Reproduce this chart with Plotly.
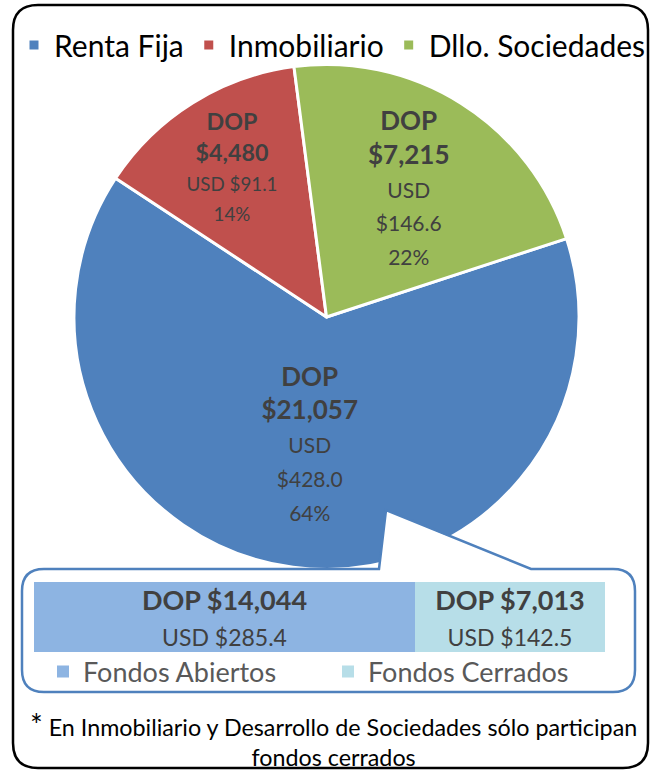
import plotly.graph_objects as go

W, H = 659, 772

# ---- data ----
categories = ["Renta Fija", "Inmobiliario", "Dllo. Sociedades"]
dop_values = [21057, 4480, 7215]
usd_values = [428.0, 91.1, 146.6]
usd_sep = ["<br>", " ", "<br>"]
pie_colors = ["#4F81BD", "#C0504D", "#9BBB59"]

fund_types = ["Fondos Abiertos", "Fondos Cerrados"]
fund_dop = [14044, 7013]
fund_usd = [285.4, 142.5]
fund_colors = ["#8DB4E2", "#B7DEE8"]

footnote = "En Inmobiliario y Desarrollo de Sociedades sólo participan<br>fondos cerrados"

FONT = "Lato"
LABEL = "#404040"


def fx(x):
    return x / W


def fy(y):
    return 1 - y / H


def path(points, close=True):
    parts = []
    for i, p in enumerate(points):
        if p[0] == "Q":
            _, (cx, cy), (ex, ey) = p
            parts.append(f"Q{fx(cx):.5f},{fy(cy):.5f} {fx(ex):.5f},{fy(ey):.5f}")
        else:
            cmd = "M" if i == 0 else "L"
            parts.append(f"{cmd}{fx(p[0]):.5f},{fy(p[1]):.5f}")
    return " ".join(parts) + (" Z" if close else "")


fig = go.Figure()

fig.add_trace(go.Pie(
    labels=categories,
    values=dop_values,
    customdata=[[s, u] for s, u in zip(usd_sep, usd_values)],
    sort=False,
    direction="clockwise",
    rotation=71.9,
    marker=dict(colors=pie_colors, line=dict(color="white", width=3)),
    texttemplate="<b>DOP<br>$%{value:,.0f}</b><br>"
                 "<span style='font-size:21px'>USD%{customdata[0]}$%{customdata[1]:.1f}<br>%{percent:.0%}</span>",
    textposition="inside",
    insidetextorientation="horizontal",
    textfont=dict(family=FONT, size=26, color=LABEL),
    domain=dict(x=[74 / W, 579 / W], y=[fy(569.5), fy(64.5)]),
    hoverinfo="label+value+percent",
    legend="legend",
))

for name, dop, usd, col in zip(fund_types, fund_dop, fund_usd, fund_colors):
    fig.add_trace(go.Bar(
        y=["Fondos"],
        x=[dop],
        customdata=[usd],
        name=name,
        orientation="h",
        marker=dict(color=col, line=dict(width=0)),
        texttemplate="<b>DOP $%{x:,.0f}</b><br><span style='font-size:23px'>USD $%{customdata:.1f}</span>",
        textposition="inside",
        insidetextanchor="middle",
        textangle=0,
        constraintext="none",
        textfont=dict(family=FONT, size=27, color=LABEL),
        xaxis="x", yaxis="y",
        legend="legend2",
    ))

shapes = [
    # outer rounded frame
    dict(type="path", xref="paper", yref="paper", layer="above",
         path=path([(13 + 25, 5), (648 - 25, 5), ("Q", (648, 5), (648, 30)),
                    (648, 768 - 25), ("Q", (648, 768), (648 - 25, 768)),
                    (13 + 25, 768), ("Q", (13, 768), (13, 768 - 25)),
                    (13, 30), ("Q", (13, 5), (13 + 25, 5))]),
         line=dict(color="black", width=2.5), fillcolor="rgba(0,0,0,0)"),
    # white notch of the callout pointer
    dict(type="path", xref="paper", yref="paper", layer="above",
         path=path([(379, 571), (386, 510), (531, 571)]),
         line=dict(width=0), fillcolor="white"),
    # callout outline
    dict(type="path", xref="paper", yref="paper", layer="above",
         path=path([(379, 569), (386, 510), (531, 569), (635 - 22, 569),
                    ("Q", (635, 569), (635, 591)), (635, 692 - 22),
                    ("Q", (635, 692), (635 - 22, 692)), (22 + 22, 692),
                    ("Q", (22, 692), (22, 692 - 22)), (22, 591),
                    ("Q", (22, 569), (22 + 22, 569))]),
         line=dict(color="#4F81BD", width=2.5), fillcolor="rgba(0,0,0,0)"),
]

fig.update_layout(
    width=W, height=H,
    autosize=False,
    margin=dict(l=0, r=0, t=0, b=0),
    paper_bgcolor="white",
    plot_bgcolor="rgba(0,0,0,0)",
    barmode="stack",
    bargap=0,
    font=dict(family=FONT, color="black"),
    xaxis=dict(domain=[34 / W, 605 / W], range=[0, sum(fund_dop)], visible=False, fixedrange=True),
    yaxis=dict(domain=[fy(652), fy(582)], range=[-0.5, 0.5], visible=False, fixedrange=True),
    legend=dict(orientation="h", x=14 / W, xanchor="left", y=fy(45), yanchor="middle",
                font=dict(family=FONT, size=30, color="black"), bgcolor="rgba(0,0,0,0)",
                traceorder="normal"),
    legend2=dict(orientation="h", x=43 / W, xanchor="left", y=fy(672), yanchor="middle",
                 font=dict(family=FONT, size=27, color="#595959"), bgcolor="rgba(0,0,0,0)",
                 entrywidth=240, entrywidthmode="pixels", traceorder="normal"),
    shapes=shapes,
    annotations=[
        dict(xref="paper", yref="paper", x=fx(333), y=fy(738), xanchor="center", yanchor="middle",
             text="<span style='font-size:30px'>*</span> " + footnote, showarrow=False,
             align="center", font=dict(family=FONT, size=23.3, color="black")),
    ],
)

fig.write_html("out.html", config={"displayModeBar": False},
               post_script="document.body.style.margin='0';document.body.style.overflow='hidden';")
